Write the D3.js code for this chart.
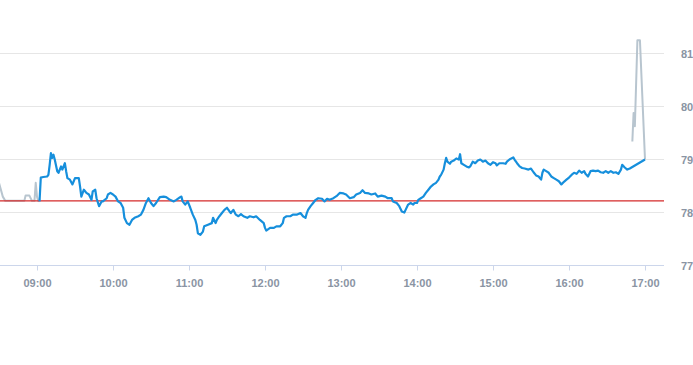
<!DOCTYPE html>
<html>
<head>
<meta charset="utf-8">
<script src="https://cdn.jsdelivr.net/npm/d3@7"></script>
<style>
  body { margin: 0; background: #fff; }
  svg { display: block; font-family: "Liberation Sans", Arial, Helvetica, sans-serif; }
</style>
</head>
<body>
<svg width="693" height="365"></svg>
<script>
// regular session
var times = ["09:02","09:03","09:05","09:08","09:09","09:10","09:11","09:12","09:13","09:14","09:16","09:17","09:19","09:20","09:22","09:23","09:24","09:26","09:28","09:30",
  "09:33","09:34","09:35","09:37","09:39","09:41","09:43","09:44","09:46","09:47","09:49","09:51","09:52","09:55","09:56","09:58","10:00","10:02","10:04","10:06",
  "10:08","10:09","10:11","10:13","10:15","10:17","10:20","10:22","10:24","10:26","10:28","10:30","10:32","10:34","10:37","10:40","10:42","10:45","10:48","10:50",
  "10:53","10:54","10:55","10:57","10:59","11:01","11:03","11:05","11:06","11:07","11:09","11:11","11:12","11:15","11:18","11:19","11:21","11:22","11:24","11:26",
  "11:28","11:30","11:32","11:33","11:35","11:37","11:39","11:41","11:43","11:46","11:48","11:51","11:53","11:56","11:59","12:00","12:01","12:04","12:07","12:09",
  "12:12","12:14","12:15","12:17","12:20","12:22","12:25","12:28","12:30","12:32","12:33","12:34","12:36","12:38","12:40","12:42","12:45","12:47","12:49","12:51",
  "12:54","12:57","12:59","13:02","13:04","13:07","13:10","13:12","13:15","13:17","13:19","13:22","13:24","13:27","13:29","13:32","13:35","13:37","13:40","13:41",
  "13:44","13:46","13:48","13:50","13:51","13:53","13:55","13:57","13:58","14:00","14:01","14:03","14:05","14:07","14:09","14:11","14:13","14:15","14:17","14:18",
  "14:19","14:21","14:22","14:23","14:24","14:26","14:27","14:29","14:31","14:33","14:34","14:35","14:37","14:39","14:41","14:42","14:44","14:46","14:48","14:50",
  "14:52","14:54","14:56","14:58","15:00","15:02","15:03","15:05","15:08","15:10","15:11","15:13","15:16","15:17","15:19","15:21","15:23","15:25","15:28","15:30",
  "15:32","15:34","15:36","15:38","15:39","15:40","15:42","15:44","15:46","15:48","15:50","15:52","15:54","15:56","15:58","16:00","16:02","16:04","16:06","16:08",
  "16:10","16:12","16:13","16:15","16:17","16:19","16:21","16:23","16:25","16:27","16:29","16:31","16:33","16:35","16:37","16:39","16:41","16:42","16:44","16:46",
  "16:48","17:00"];
var prices = [78.20,78.65,78.66,78.67,78.70,78.89,79.11,79.02,79.08,78.99,78.77,78.74,78.86,78.80,78.92,78.77,78.64,78.61,78.52,78.64,
  78.64,78.48,78.29,78.42,78.36,78.33,78.23,78.39,78.42,78.26,78.11,78.20,78.20,78.26,78.33,78.36,78.33,78.29,78.20,78.17,
  78.08,77.89,77.79,77.76,77.85,77.89,77.92,77.95,78.04,78.17,78.26,78.17,78.11,78.17,78.28,78.29,78.28,78.23,78.20,78.23,
  78.28,78.29,78.20,78.14,78.20,78.08,77.95,77.85,77.76,77.60,77.57,77.63,77.73,77.76,77.79,77.89,77.79,77.85,77.92,77.98,
  78.04,78.08,78.01,77.98,78.04,77.95,77.92,77.96,77.92,77.89,77.92,77.90,77.92,77.85,77.79,77.70,77.65,77.70,77.70,77.73,
  77.73,77.79,77.89,77.92,77.92,77.95,77.95,77.98,77.92,77.89,77.98,78.04,78.11,78.17,78.23,78.26,78.25,78.20,78.25,78.23,
  78.26,78.31,78.36,78.35,78.33,78.26,78.28,78.33,78.36,78.41,78.36,78.35,78.33,78.35,78.29,78.31,78.29,78.26,78.26,78.20,
  78.17,78.11,78.01,77.99,78.04,78.14,78.17,78.14,78.17,78.17,78.23,78.26,78.29,78.36,78.42,78.48,78.52,78.55,78.61,78.67,
  78.70,78.80,78.92,79.02,78.95,78.91,78.95,78.97,79.01,78.99,79.09,78.92,78.89,78.86,78.84,78.86,78.95,78.92,78.97,78.99,
  78.95,78.97,78.92,78.89,78.94,78.92,78.88,78.92,78.92,78.91,78.95,78.99,79.03,78.99,78.92,78.86,78.83,78.82,78.80,78.82,
  78.75,78.69,78.67,78.61,78.74,78.80,78.77,78.74,78.67,78.64,78.61,78.58,78.52,78.57,78.61,78.65,78.70,78.74,78.72,78.78,
  78.74,78.77,78.72,78.67,78.77,78.78,78.77,78.78,78.75,78.74,78.77,78.74,78.77,78.74,78.75,78.72,78.80,78.89,78.84,78.80,
  78.82,78.99];

// pre-market and after-hours (grey)
var preTimes = ["08:30","08:33","08:35","08:50","08:51","08:54","08:56","08:58","08:59","09:00","09:01","09:02"];
var prePrices = [78.55,78.29,78.21,78.21,78.31,78.31,78.21,78.21,78.55,78.29,78.21,78.20];
var postTimes = ["16:50","16:51","16:52","16:54","16:56","17:00"];
var postPrices = [79.33,79.87,79.62,81.24,81.24,78.99];

var prevClose = 78.21;
var yTicks = [77, 78, 79, 80, 81];
var xTicks = ["09:00","10:00","11:00","12:00","13:00","14:00","15:00","16:00","17:00"];
var xDomain = ["08:30", "17:15"];

var parse = d3.timeParse("%H:%M");
var svg = d3.select("svg");

var x = d3.scaleTime()
    .domain(xDomain.map(parse))
    .range([-1, 664]);

var y = d3.scaleLinear()
    .domain([77, 82])
    .range([265, 0]);

// grid
svg.append("g")
    .selectAll("line")
    .data(yTicks.slice(1))
    .enter().append("line")
    .attr("x1", 0)
    .attr("x2", 664)
    .attr("y1", function(d) { return Math.round(y(d)) + 0.5; })
    .attr("y2", function(d) { return Math.round(y(d)) + 0.5; })
    .attr("stroke", "#e6e6e6")
    .attr("stroke-width", 1);

// y labels on the right
svg.append("g")
    .selectAll("text")
    .data(yTicks)
    .enter().append("text")
    .attr("x", 681)
    .attr("y", function(d) { return y(d) + 5; })
    .attr("fill", "#8a94a3")
    .style("font-size", "11px")
    .style("font-weight", "bold")
    .text(function(d) { return d; });

// x axis
var xAxis = d3.axisBottom(x)
    .tickValues(xTicks.map(parse))
    .tickFormat(d3.timeFormat("%H:%M"))
    .tickSize(5)
    .tickSizeOuter(0);

var gx = svg.append("g")
    .attr("transform", "translate(0," + (Math.round(y(77)) + 0.5) + ")")
    .call(xAxis);

gx.select(".domain").attr("stroke", "#ccd6eb").attr("d", "M0,0H664");
gx.selectAll(".tick line").attr("stroke", "#ccd6eb");
gx.selectAll(".tick text")
    .attr("y", 14)
    .attr("fill", "#8a94a3")
    .style("font-size", "11px")
    .style("font-weight", "bold")
    .style("font-family", "'Liberation Sans', Arial, sans-serif");

var line = d3.line()
    .x(function(d) { return x(parse(d[0])); })
    .y(function(d) { return y(d[1]); });

svg.append("path")
    .datum(d3.zip(preTimes, prePrices))
    .attr("d", line)
    .attr("fill", "none")
    .attr("stroke", "#b8c5cf")
    .attr("stroke-width", 2)
    .attr("stroke-linejoin", "round");

svg.append("path")
    .datum(d3.zip(postTimes, postPrices))
    .attr("d", line)
    .attr("fill", "none")
    .attr("stroke", "#b8c5cf")
    .attr("stroke-width", 2)
    .attr("stroke-linejoin", "round");

// previous close
svg.append("line")
    .attr("x1", 0)
    .attr("x2", 664)
    .attr("y1", y(prevClose))
    .attr("y2", y(prevClose))
    .attr("stroke", "#d42a2a")
    .attr("stroke-width", 1.2);

svg.append("path")
    .datum(d3.zip(times, prices))
    .attr("d", line)
    .attr("fill", "none")
    .attr("stroke", "#168fdc")
    .attr("stroke-width", 2.2)
    .attr("stroke-linejoin", "round");
</script>
</body>
</html>
